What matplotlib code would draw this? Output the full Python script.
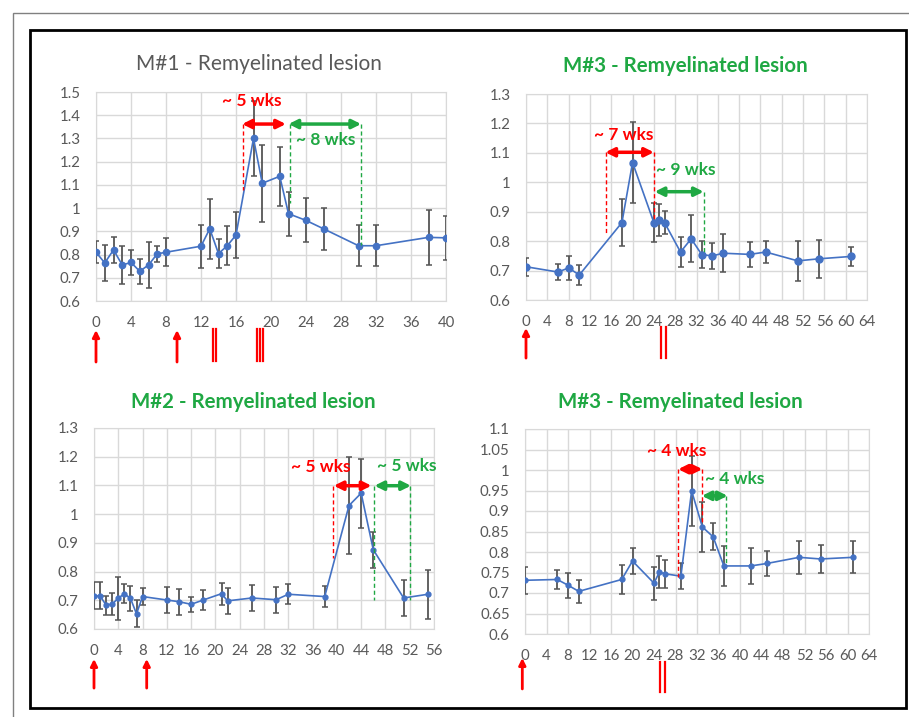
import matplotlib.pyplot as plt
from matplotlib.patches import Rectangle
from matplotlib.ticker import FuncFormatter, MultipleLocator
import matplotlib.transforms as mtransforms

plt.rcParams['font.family'] = ['Lato', 'DejaVu Sans']

RED = '#FF0000'
GREEN = '#1FA843'
BLUE = '#4472C4'
ERR = '#555555'
GRID = '#D9D9D9'
TXT = '#595959'

# M#1 (top left)
m1_wk = [0, 1, 2, 3, 4, 5, 6, 7, 8, 12, 13, 14, 15, 16, 18, 19, 21, 22, 24, 26, 30, 32, 38, 40]
m1_val = [0.810, 0.764, 0.820, 0.755, 0.766, 0.728, 0.755, 0.803, 0.810, 0.836, 0.911, 0.804,
          0.838, 0.884, 1.300, 1.107, 1.137, 0.976, 0.947, 0.911, 0.838, 0.838, 0.874, 0.872]
m1_err = [0.048, 0.078, 0.055, 0.083, 0.053, 0.054, 0.100, 0.033, 0.060, 0.092, 0.130, 0.063,
          0.085, 0.100, 0.160, 0.165, 0.128, 0.095, 0.095, 0.090, 0.089, 0.088, 0.120, 0.095]

# M#3 (top right)
m3a_wk = [0, 6, 8, 10, 18, 20, 24, 25, 26, 29, 31, 33, 35, 37, 42, 45, 51, 55, 61]
m3a_val = [0.713, 0.695, 0.709, 0.685, 0.863, 1.067, 0.863, 0.871, 0.863, 0.763, 0.808, 0.754,
           0.750, 0.759, 0.755, 0.763, 0.733, 0.740, 0.748]
m3a_err = [0.030, 0.028, 0.040, 0.035, 0.080, 0.137, 0.065, 0.055, 0.040, 0.050, 0.080, 0.045,
           0.043, 0.064, 0.042, 0.038, 0.067, 0.065, 0.032]

# M#2 (bottom left)
m2_wk = [0, 1, 2, 3, 4, 5, 6, 7, 8, 12, 14, 16, 18, 21, 22, 26, 30, 32, 38, 42, 44, 46, 51, 55]
m2_val = [0.715, 0.715, 0.683, 0.687, 0.707, 0.723, 0.707, 0.653, 0.713, 0.701, 0.695, 0.686,
          0.701, 0.723, 0.698, 0.708, 0.702, 0.721, 0.713, 1.030, 1.073, 0.876, 0.708, 0.721]
m2_err = [0.047, 0.047, 0.033, 0.038, 0.074, 0.034, 0.043, 0.047, 0.030, 0.044, 0.046, 0.027,
          0.035, 0.038, 0.045, 0.044, 0.045, 0.035, 0.037, 0.170, 0.120, 0.062, 0.062, 0.086]

# M#3 (bottom right)
m3b_wk = [0, 6, 8, 10, 18, 20, 24, 25, 26, 29, 31, 33, 35, 37, 42, 45, 51, 55, 61]
m3b_val = [0.731, 0.733, 0.719, 0.704, 0.733, 0.778, 0.724, 0.751, 0.747, 0.741, 0.949, 0.861,
           0.837, 0.766, 0.766, 0.772, 0.787, 0.783, 0.787]
m3b_err = [0.033, 0.024, 0.030, 0.028, 0.035, 0.032, 0.040, 0.039, 0.034, 0.032, 0.086, 0.062,
           0.033, 0.048, 0.043, 0.030, 0.040, 0.035, 0.039]

fig = plt.figure(figsize=(9.09, 7.17), dpi=100)


def px_box(x0, y0, x1, y1):
    W, H = 909, 717
    return [x0 / W, 1 - y1 / H, (x1 - x0) / W, (y1 - y0) / H]


def setup(ax, xmax, ymin, ymax, ystep):
    ax.set_xlim(0, xmax)
    ax.set_ylim(ymin, ymax)
    ax.xaxis.set_major_locator(MultipleLocator(4))
    ax.yaxis.set_major_locator(MultipleLocator(ystep))
    ax.yaxis.set_major_formatter(FuncFormatter(lambda v, p: f'{round(v, 3):g}'))
    ax.grid(True, color=GRID, lw=1)
    ax.set_axisbelow(True)
    for s in ax.spines.values():
        s.set_color(GRID)
    ax.tick_params(length=0, pad=11, labelsize=10.8, labelcolor=TXT)


def series(ax, x, y, e, ms):
    ax.errorbar(x, y, yerr=e, color=BLUE, lw=1.2, marker='o', ms=ms,
                ecolor=ERR, elinewidth=1.3, capsize=2, capthick=1.1, zorder=3)


def span(ax, x1, x2, y, col):
    ax.annotate('', xy=(x2, y), xytext=(x1, y),
                arrowprops=dict(arrowstyle='<|-|>', color=col, lw=2.5,
                                mutation_scale=13, shrinkA=0, shrinkB=0), zorder=5)


def vdash(ax, x, y1, y2, col):
    ax.plot([x, x], [y1, y2], color=col, lw=1, ls=(0, (3, 2)), zorder=4)


def label(ax, x, y, s, col, ha='center'):
    ax.text(x, y, s, color=col, fontsize=12.5, fontweight='bold', ha=ha, va='center', zorder=6)


def up_arrow(ax, x, y_head, y_tail):
    tr = mtransforms.blended_transform_factory(ax.transData, ax.transAxes)
    ax.annotate('', xy=(x, y_head), xytext=(x, y_tail), xycoords=tr, textcoords=tr,
                arrowprops=dict(arrowstyle='-|>', color=RED, lw=2, mutation_scale=10,
                                shrinkA=0, shrinkB=0), annotation_clip=False)


def bars(ax, xs, y1, y2):
    tr = mtransforms.blended_transform_factory(ax.transData, ax.transAxes)
    for x in xs:
        ax.plot([x, x], [y1, y2], color=RED, lw=1.6, transform=tr, clip_on=False)


# ---- M#1 ----
ax1 = fig.add_axes(px_box(96, 92, 446, 301))
setup(ax1, 40, 0.6, 1.5, 0.1)
series(ax1, m1_wk, m1_val, m1_err, 4.5)
vdash(ax1, 16.8, 1.362, 1.078, RED)
vdash(ax1, 22.2, 1.362, 1.02, GREEN)
vdash(ax1, 30.3, 1.362, 0.84, GREEN)
span(ax1, 16.7, 21.7, 1.362, RED)
span(ax1, 22.0, 30.3, 1.362, GREEN)
label(ax1, 17.8, 1.463, '~ 5 wks', RED)
label(ax1, 26.2, 1.294, '~ 8 wks', GREEN)
up_arrow(ax1, 0, -0.139, -0.292)
up_arrow(ax1, 9.26, -0.139, -0.292)
bars(ax1, [13.33, 13.71], -0.134, -0.287)
bars(ax1, [18.36, 18.74, 19.12], -0.134, -0.287)

# ---- M#3 top ----
ax2 = fig.add_axes(px_box(526, 94, 867, 300))
setup(ax2, 64, 0.6, 1.3, 0.1)
series(ax2, m3a_wk, m3a_val, m3a_err, 5)
vdash(ax2, 15.0, 1.102, 0.821, RED)
vdash(ax2, 24.0, 1.102, 0.872, RED)
vdash(ax2, 33.4, 0.968, 0.759, GREEN)
span(ax2, 14.9, 24.0, 1.102, RED)
span(ax2, 24.15, 33.35, 0.968, GREEN)
label(ax2, 18.3, 1.161, '~ 7 wks', RED)
label(ax2, 29.9, 1.042, '~ 9 wks', GREEN)
up_arrow(ax2, 0, -0.136, -0.282)
bars(ax2, [25.3, 26.2], -0.131, -0.282)

# ---- M#2 ----
ax3 = fig.add_axes(px_box(94, 428, 434, 629))
setup(ax3, 56, 0.6, 1.3, 0.1)
series(ax3, m2_wk, m2_val, m2_err, 3.5)
vdash(ax3, 39.4, 1.099, 0.847, RED)
vdash(ax3, 46.1, 1.099, 0.70, GREEN)
vdash(ax3, 52.1, 1.099, 0.70, GREEN)
span(ax3, 39.5, 45.7, 1.099, RED)
span(ax3, 46.2, 52.2, 1.099, GREEN)
label(ax3, 37.3, 1.164, '~ 5 wks', RED)
label(ax3, 51.5, 1.166, '~ 5 wks', GREEN)
up_arrow(ax3, 0, -0.149, -0.294)
up_arrow(ax3, 8.68, -0.149, -0.294)

# ---- M#3 bottom ----
ax4 = fig.add_axes(px_box(525, 429, 869, 634))
setup(ax4, 64, 0.6, 1.1, 0.05)
series(ax4, m3b_wk, m3b_val, m3b_err, 3.5)
vdash(ax4, 28.5, 1.002, 0.740, RED)
vdash(ax4, 32.9, 1.002, 0.87, RED)
vdash(ax4, 37.4, 0.937, 0.769, GREEN)
span(ax4, 28.5, 33.0, 1.002, RED)
span(ax4, 32.9, 37.7, 0.937, GREEN)
label(ax4, 28.2, 1.046, '~ 4 wks', RED)
label(ax4, 39.1, 0.979, '~ 4 wks', GREEN)
up_arrow(ax4, -0.5, -0.117, -0.268)
bars(ax4, [25.1, 26.0], -0.137, -0.283)

# titles
fig.text(259 / 909, 1 - 64 / 717, 'M#1 - Remyelinated lesion', color=TXT, fontsize=15,
         ha='center', va='center')
fig.text(685 / 909, 1 - 66 / 717, 'M#3 - Remyelinated lesion', color=GREEN, fontsize=14.8,
         fontweight='bold', ha='center', va='center')
fig.text(253 / 909, 1 - 402 / 717, 'M#2 - Remyelinated lesion', color=GREEN, fontsize=14.8,
         fontweight='bold', ha='center', va='center')
fig.text(680 / 909, 1 - 402 / 717, 'M#3 - Remyelinated lesion', color=GREEN, fontsize=14.8,
         fontweight='bold', ha='center', va='center')

# frames
fig.add_artist(Rectangle((12.7 / 909, -0.1), 1.2, 1 - 12.7 / 717 + 0.1, transform=fig.transFigure,
                         fill=False, ec='#808080', lw=1))
fig.add_artist(Rectangle((30 / 909, 1 - 707.5 / 717), 875.5 / 909, 677.5 / 717,
                         transform=fig.transFigure, fill=False, ec='black', lw=2))

fig.savefig('out.png', dpi=100)
